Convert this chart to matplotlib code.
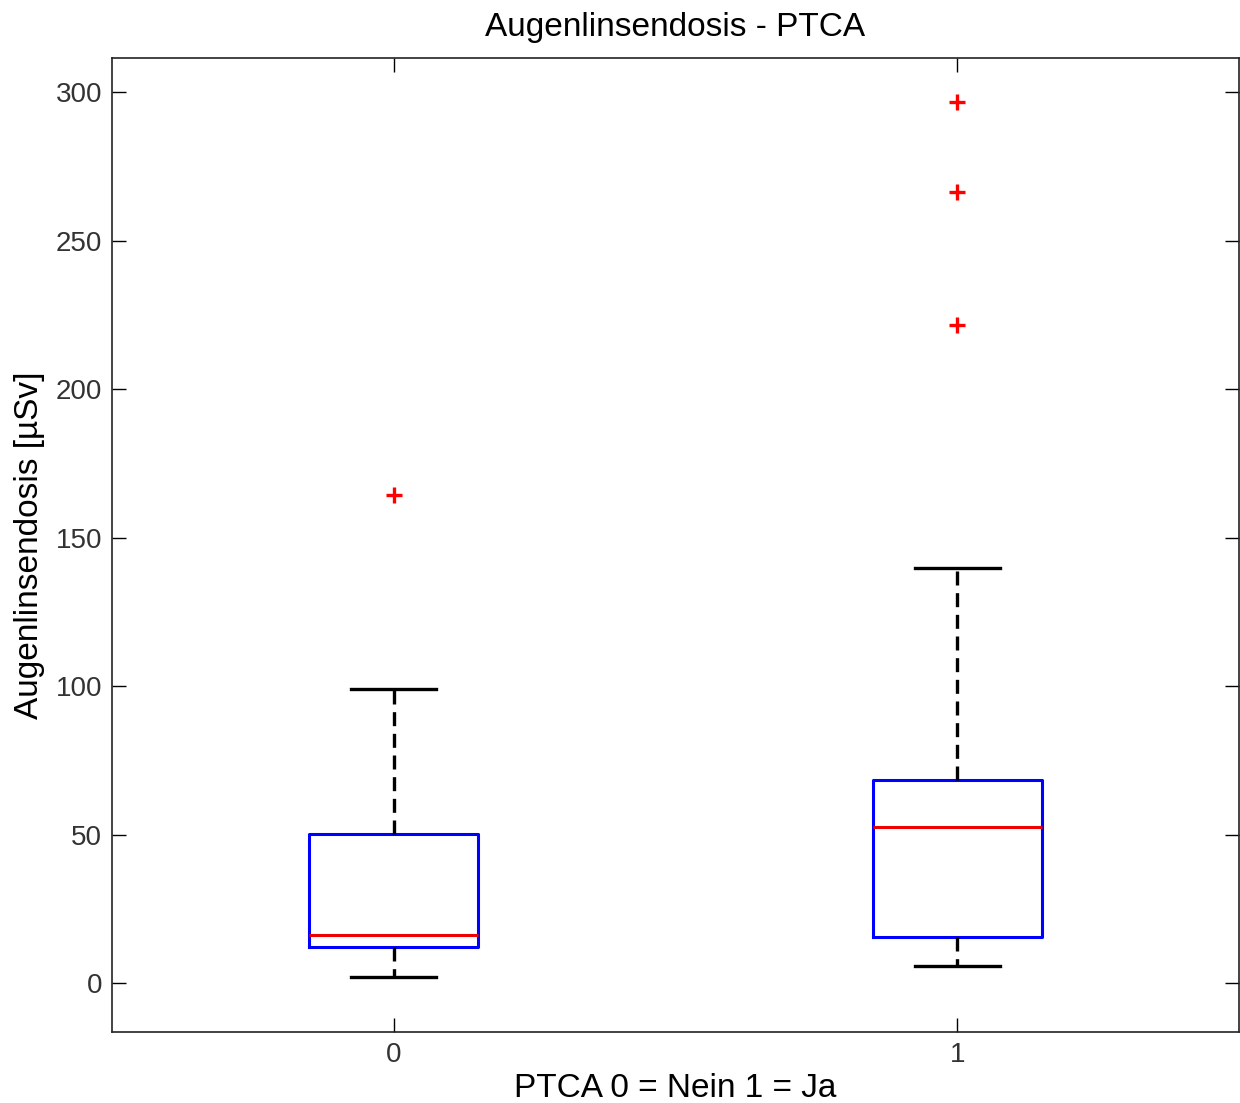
import matplotlib.pyplot as plt

# Box statistics (µSv)
groups = ["0", "1"]
positions = [0, 1]
whisker_low = [2.0, 5.7]
q1 = [12.1, 15.5]
median = [16.1, 52.5]
q3 = [50.1, 68.3]
whisker_high = [98.9, 139.6]
outliers = [[164.5], [221.7, 266.4, 296.7]]

plt.rcParams['font.family'] = ['Liberation Sans', 'DejaVu Sans']

fig = plt.figure(figsize=(12.4, 11.03), dpi=100)
ax = fig.add_axes([0.0903, 0.0644, 0.909, 0.883])

stats = []
for i, g in enumerate(groups):
    stats.append(dict(label=g, whislo=whisker_low[i], q1=q1[i], med=median[i],
                      q3=q3[i], whishi=whisker_high[i], fliers=outliers[i]))

ax.bxp(stats, positions=positions, widths=0.3, showfliers=True,
       boxprops=dict(color='#0000ff', linewidth=2.2),
       medianprops=dict(color='#ee0000', linewidth=2.2),
       whiskerprops=dict(color='black', linewidth=2.4, linestyle=(0, (4.2, 2.3))),
       capprops=dict(color='black', linewidth=2.4),
       capwidths=0.15,
       flierprops=dict(marker='+', markeredgecolor='#ff0000', markersize=12,
                       markeredgewidth=2.4, linestyle='none'))

ax.set_xlim(-0.5, 1.5)
ax.set_ylim(-16.5, 311.5)
ax.set_yticks([0, 50, 100, 150, 200, 250, 300])
ax.set_xticks(positions)
ax.set_xticklabels(groups)

ax.tick_params(direction='in', length=10, width=1, top=True, right=True,
               labelsize=20, labelcolor='#333333', pad=7)
for s in ax.spines.values():
    s.set_linewidth(1.2)
    s.set_color('#222222')

ax.set_title("Augenlinsendosis - PTCA", fontsize=24, pad=16)
ax.set_xlabel("PTCA 0 = Nein 1 = Ja", fontsize=24, labelpad=4)
ax.set_ylabel("Augenlinsendosis [µSv]", fontsize=24, labelpad=8)

fig.savefig("out.png", dpi=100)
